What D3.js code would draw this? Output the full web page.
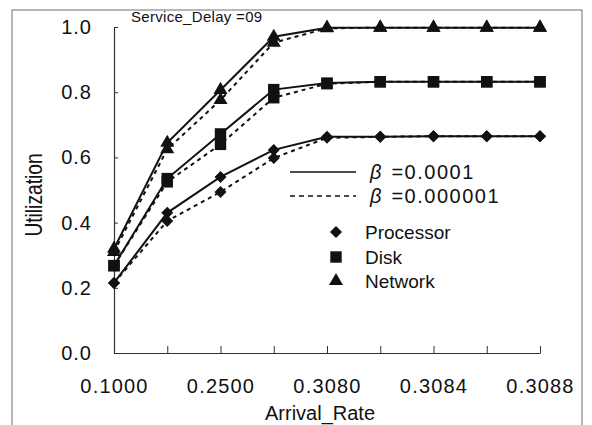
<!DOCTYPE html>
<html>
<head>
<meta charset="utf-8">
<script src="https://cdn.jsdelivr.net/npm/d3@7"></script>
<style>
  body { margin: 0; background: #fff; }
  text { font-family: "Liberation Sans", Arial, sans-serif; fill: #111; }
</style>
</head>
<body>
<svg width="592" height="425"></svg>
<script>
var categories = ["0.1000", "0.2000", "0.2500", "0.3000", "0.3080", "0.3082", "0.3084", "0.3086", "0.3088"];
var shownLabels = ["0.1000", "0.2500", "0.3080", "0.3084", "0.3088"];
var yTicks = [0.0, 0.2, 0.4, 0.6, 0.8, 1.0];

// beta = 0.0001 (solid)
var processorA = [0.215, 0.43, 0.54, 0.623, 0.663, 0.663, 0.665, 0.665, 0.665];
var diskA      = [0.268, 0.535, 0.672, 0.808, 0.828, 0.832, 0.832, 0.832, 0.832];
var networkA   = [0.32, 0.645, 0.807, 0.97, 0.998, 0.998, 0.998, 0.998, 0.998];
// beta = 0.000001 (dashed)
var processorB = [0.215, 0.405, 0.494, 0.598, 0.66, 0.663, 0.665, 0.665, 0.665];
var diskB      = [0.268, 0.525, 0.64, 0.783, 0.826, 0.832, 0.832, 0.832, 0.832];
var networkB   = [0.31, 0.625, 0.776, 0.952, 0.996, 0.998, 0.998, 0.998, 0.998];

// wide diamond (square turned 45 degrees)
var wideDiamond = {
  draw: function(context, size) {
    var r = Math.sqrt(size / 2);
    context.moveTo(0, -r);
    context.lineTo(r, 0);
    context.lineTo(0, r);
    context.lineTo(-r, 0);
    context.closePath();
  }
};

var series = [
  { name: "Processor", values: processorA, dash: null, shape: wideDiamond },
  { name: "Disk", values: diskA, dash: null, shape: d3.symbolSquare },
  { name: "Network", values: networkA, dash: null, shape: d3.symbolTriangle },
  { name: "Processor", values: processorB, dash: "4,4", shape: wideDiamond },
  { name: "Disk", values: diskB, dash: "4,4", shape: d3.symbolSquare },
  { name: "Network", values: networkB, dash: "4,4", shape: d3.symbolTriangle }
];

function markerSize(shape) {
  if (shape === d3.symbolSquare) return 130;
  if (shape === wideDiamond) return 72;
  return 85;
}

var svg = d3.select("svg");

// outer frame
svg.append("rect")
    .attr("x", 12).attr("y", 10)
    .attr("width", 570).attr("height", 420)
    .attr("fill", "none")
    .attr("stroke", "#888")
    .attr("stroke-width", 1.2);

var x = d3.scalePoint()
    .domain(categories)
    .range([114, 540]);

var y = d3.scaleLinear()
    .domain([0, 1])
    .range([353, 27]);

// axes
var xAxis = svg.append("g")
    .attr("transform", "translate(0,353)")
    .call(d3.axisBottom(x).tickSizeInner(-7).tickSizeOuter(0)
      .tickFormat(function(d) { return shownLabels.indexOf(d) >= 0 ? d : ""; }));
xAxis.select(".domain").attr("stroke", "#333").attr("stroke-width", 1.2);
xAxis.selectAll(".tick line").attr("stroke", "#333");
xAxis.selectAll(".tick text")
    .attr("y", 26)
    .attr("dy", "0.71em")
    .attr("font-size", 20)
    .attr("letter-spacing", 1.2)
    .style("font-family", "Liberation Sans, Arial, sans-serif")
    .attr("fill", "#111");

var yAxis = svg.append("g")
    .attr("transform", "translate(114,0)")
    .call(d3.axisLeft(y).tickValues(yTicks).tickSizeInner(-4).tickSizeOuter(0)
      .tickFormat(d3.format(".1f")));
yAxis.select(".domain").attr("stroke", "#333").attr("stroke-width", 1.2);
yAxis.selectAll(".tick line").attr("stroke", "#333");
yAxis.selectAll(".tick text")
    .attr("x", -22)
    .attr("font-size", 20)
    .attr("letter-spacing", 1)
    .style("font-family", "Liberation Sans, Arial, sans-serif")
    .attr("fill", "#111");

// lines
var line = d3.line()
    .x(function(d, i) { return x(categories[i]); })
    .y(function(d) { return y(d); });

svg.append("g").selectAll("path")
    .data(series)
    .enter().append("path")
      .attr("d", function(d) { return line(d.values); })
      .attr("fill", "none")
      .attr("stroke", "#111")
      .attr("stroke-width", 2)
      .attr("stroke-dasharray", function(d) { return d.dash; });

// markers
series.forEach(function(s) {
  svg.append("g").selectAll("path")
    .data(s.values)
    .enter().append("path")
      .attr("transform", function(d, i) { return "translate(" + x(categories[i]) + "," + y(d) + ")"; })
      .attr("d", d3.symbol().type(s.shape).size(markerSize(s.shape)))
      .attr("fill", "#111");
});

// title
svg.append("text")
    .attr("x", 131).attr("y", 22)
    .attr("font-size", 15)
    .attr("letter-spacing", 0.3)
    .text("Service_Delay =09");

// axis titles
svg.append("text")
    .attr("transform", "translate(42,195) rotate(-90) scale(0.8,1)")
    .attr("text-anchor", "middle")
    .attr("font-size", 24)
    .text("Utilization");

svg.append("text")
    .attr("x", 320).attr("y", 420)
    .attr("text-anchor", "middle")
    .attr("font-size", 20)
    .text("Arrival_Rate");

// legend: line styles
var lineLegend = [
  { value: "=0.0001", dash: null, y: 172 },
  { value: "=0.000001", dash: "5,4", y: 196 }
];
var lg = svg.append("g").selectAll("g")
    .data(lineLegend)
    .enter().append("g");
lg.append("line")
    .attr("x1", 290).attr("x2", 356)
    .attr("y1", function(d) { return d.y; }).attr("y2", function(d) { return d.y; })
    .attr("stroke", "#111").attr("stroke-width", 1.6)
    .attr("stroke-dasharray", function(d) { return d.dash; });
var lt = lg.append("text")
    .attr("x", 370)
    .attr("y", function(d) { return d.y + 7; })
    .attr("font-size", 20);
lt.append("tspan")
    .attr("font-style", "italic")
    .text("\u03B2");
lt.append("tspan")
    .attr("dx", 10)
    .attr("letter-spacing", 1.5)
    .text(function(d) { return d.value; });

// legend: markers
var shapeLegend = [
  { label: "Processor", shape: wideDiamond, y: 232 },
  { label: "Disk", shape: d3.symbolSquare, y: 257 },
  { label: "Network", shape: d3.symbolTriangle, y: 281 }
];
var sg = svg.append("g").selectAll("g")
    .data(shapeLegend)
    .enter().append("g");
sg.append("path")
    .attr("transform", function(d) { return "translate(336," + d.y + ")"; })
    .attr("d", function(d) { return d3.symbol().type(d.shape).size(markerSize(d.shape))(); })
    .attr("fill", "#111");
sg.append("text")
    .attr("x", 365)
    .attr("y", function(d) { return d.y + 7; })
    .attr("font-size", 19)
    .text(function(d) { return d.label; });
</script>
</body>
</html>
